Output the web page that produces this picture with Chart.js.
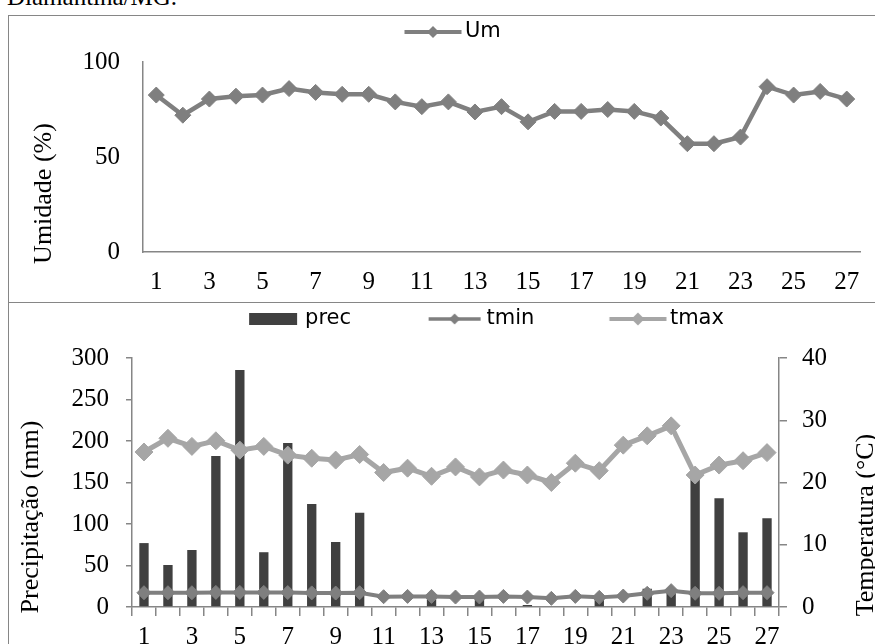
<!DOCTYPE html>
<html>
<head>
<meta charset="utf-8">
<script src="https://cdn.jsdelivr.net/npm/chart.js@4.4.1/dist/chart.umd.min.js"></script>
<style>
  html, body { margin: 0; padding: 0; background: #fff; overflow: hidden; width: 875px; height: 644px; }
  #legenda { position: absolute; left: 7px; top: -16px; font: 25px "Liberation Serif", "Times New Roman", serif; line-height: 25px; white-space: nowrap; color: #000; }
  .painel { position: absolute; left: 8px; width: 900px; border: 1px solid #868686; box-sizing: border-box; }
  #painelUm { top: 15px; height: 288px; }
  #painelPrec { top: 302px; height: 400px; }
  canvas { position: absolute; left: 0; }
  #chartUm { top: 16px; }
  #chartPrec { top: 303px; }
</style>
</head>
<body>
<div id="legenda">Diamantina/MG.</div>
<div class="painel" id="painelUm"></div>
<div class="painel" id="painelPrec"></div>
<canvas id="chartUm" width="875" height="286"></canvas>
<canvas id="chartPrec" width="875" height="360"></canvas>
<script>
// --- DADOS ---
const dias = ['1', '2', '3', '4', '5', '6', '7', '8', '9', '10', '11', '12', '13', '14',
              '15', '16', '17', '18', '19', '20', '21', '22', '23', '24', '25', '26', '27'];
const umidade = [82.6, 72, 80.5, 82, 82.6, 86, 84, 83, 83, 79, 76.5, 79, 73.7, 76.5,
                 68.5, 74, 74, 75, 74, 70.5, 57, 57, 60.5, 87, 82.6, 84.5, 80.5];
const precipitacao = [77, 50.6, 68.7, 182, 285.5, 66, 197.6, 124, 78.3, 113.5, 0, 0, 12, 0,
                      12, 0, 2.4, 0, 0, 10, 0, 22, 22, 156.6, 131, 90, 107];
const tempMin = [17.2, 17.2, 17.2, 17.6, 17.6, 17.6, 17.4, 17, 16.8, 17.2, 12.4, 12.8, 12.8, 12,
                 12, 12.8, 12, 10.4, 12.8, 11.6, 13.2, 16.5, 19.7, 16.5, 16.5, 17.3, 17.3];
const tempMax = [24.9, 27.1, 25.8, 26.7, 25.2, 25.8, 24.4, 23.9, 23.6, 24.5, 21.6, 22.3, 21.0, 22.5,
                 20.9, 22.0, 21.2, 20.0, 23.1, 21.9, 26.0, 27.5, 29.1, 21.2, 22.8, 23.5, 24.8];

// --- ESTILO ---
const corUm = '#7f7f7f';
const corPrec = '#404040';
const corTmin = '#7f7f7f';
const corTmax = '#a6a6a6';
const corEixo = '#868686';
const fonteEixo = { family: '"Liberation Serif", "Times New Roman", serif', size: 25 };
const fonteLegenda = { family: '"DejaVu Sans", sans-serif', size: 21 };

Chart.defaults.animation = false;
Chart.defaults.events = [];

// simbolo da legenda: linha com losango (ou barra), desenhado num canvas
function simbolo(largura, centro, desenha) {
    const c = document.createElement('canvas');
    c.width = largura;
    c.height = 24;
    desenha(c.getContext('2d'), centro, 12);
    return c;
}
function linhaLosango(cor, espessura, comprimento, raio) {
    return (ctx, cx, cy) => {
        ctx.strokeStyle = cor;
        ctx.lineWidth = espessura;
        ctx.beginPath();
        ctx.moveTo(cx - comprimento / 2, cy);
        ctx.lineTo(cx + comprimento / 2, cy);
        ctx.stroke();
        ctx.fillStyle = cor;
        ctx.beginPath();
        ctx.moveTo(cx - raio, cy);
        ctx.lineTo(cx, cy - raio);
        ctx.lineTo(cx + raio, cy);
        ctx.lineTo(cx, cy + raio);
        ctx.closePath();
        ctx.fill();
    };
}
function barra(cor, w, h) {
    return (ctx, cx, cy) => {
        ctx.fillStyle = cor;
        ctx.fillRect(cx - w / 2, cy - h / 2, w, h);
    };
}

// titulos dos eixos (rotacionados, lidos de baixo para cima)
function titulosEixos(textos) {
    return {
        id: 'titulosEixos',
        afterDraw(chart) {
            const ctx = chart.ctx;
            ctx.save();
            ctx.font = '26px "Liberation Serif", "Times New Roman", serif';
            ctx.fillStyle = '#000';
            ctx.textAlign = 'center';
            ctx.textBaseline = 'alphabetic';
            textos.forEach(t => {
                ctx.save();
                ctx.translate(t.x, t.y);
                ctx.rotate(-Math.PI / 2);
                ctx.fillText(t.texto, 0, 0);
                ctx.restore();
            });
            ctx.restore();
        }
    };
}

const rotuloImpar = (v, i) => (i % 2 === 0 ? dias[i] : '');

// --- GRAFICO UMIDADE ---
new Chart(document.getElementById('chartUm'), {
    type: 'line',
    data: {
        labels: dias,
        datasets: [{
            label: 'Um',
            data: umidade,
            borderColor: corUm,
            backgroundColor: corUm,
            borderWidth: 4.5,
            pointStyle: 'rectRot',
            pointRadius: 8,
            pointBorderWidth: 1,
            tension: 0
        }]
    },
    options: {
        responsive: false,
        devicePixelRatio: 1,
        layout: { padding: { left: 52.3, right: 15, top: -4.5, bottom: 0 } },
        plugins: {
            tooltip: { enabled: false },
            title: { display: true, text: '', weight: 500, font: { size: 1, lineHeight: 1 }, padding: { top: 8.5, bottom: 0 } },
            legend: {
                position: 'top',
                labels: {
                    usePointStyle: true,
                    pointStyleWidth: 43,
                    padding: 10,
                    color: '#000',
                    font: fonteLegenda,
                    generateLabels: () => [{
                        text: 'Um',
                        pointStyle: simbolo(60, 30, linhaLosango(corUm, 4, 57, 6)),
                        fillStyle: corUm, strokeStyle: corUm, lineWidth: 0, hidden: false, datasetIndex: 0
                    }]
                }
            }
        },
        scales: {
            x: {
                type: 'category',
                offset: true,
                grid: { display: false, drawTicks: false },
                border: { display: true, color: corEixo, width: 1.5 },
                ticks: { autoSkip: false, maxRotation: 0, padding: 15, color: '#000', font: fonteEixo, callback: rotuloImpar },
                afterFit: s => { s.height = 50; }
            },
            y: {
                min: 0,
                max: 100,
                grid: { display: false, drawTicks: false },
                border: { display: true, color: corEixo, width: 1.5 },
                ticks: { stepSize: 50, padding: 23, color: '#000', font: fonteEixo },
                afterFit: s => { s.width = 90.7; }
            }
        }
    },
    plugins: [titulosEixos([{ texto: 'Umidade (%)', x: 51, y: 177.5 }])]
});

// --- GRAFICO PRECIPITACAO / TEMPERATURA ---
new Chart(document.getElementById('chartPrec'), {
    type: 'bar',
    data: {
        labels: dias,
        datasets: [
            {
                type: 'bar',
                label: 'prec',
                data: precipitacao,
                backgroundColor: corPrec,
                barPercentage: 0.39,
                categoryPercentage: 1,
                yAxisID: 'y',
                order: 3
            },
            {
                type: 'line',
                label: 'tmin',
                data: tempMin,
                borderColor: corTmin,
                backgroundColor: corTmin,
                borderWidth: 4,
                pointStyle: 'rectRot',
                pointRadius: 7,
                pointBorderWidth: 1,
                tension: 0,
                yAxisID: 'y',
                order: 2
            },
            {
                type: 'line',
                label: 'tmax',
                data: tempMax,
                borderColor: corTmax,
                backgroundColor: corTmax,
                borderWidth: 5,
                pointStyle: 'rectRot',
                pointRadius: 9,
                pointBorderWidth: 1,
                tension: 0,
                yAxisID: 'y2',
                order: 1
            }
        ]
    },
    options: {
        responsive: false,
        devicePixelRatio: 1,
        layout: { padding: { left: 28.5, right: 0, top: -4.5, bottom: 0 } },
        plugins: {
            tooltip: { enabled: false },
            title: { display: true, text: '', weight: 500, font: { size: 1, lineHeight: 1 }, padding: { top: 17.5, bottom: 0 } },
            legend: {
                position: 'top',
                labels: {
                    usePointStyle: true,
                    pointStyleWidth: 115,
                    padding: 10,
                    color: '#000',
                    font: fonteLegenda,
                    generateLabels: () => [
                        { text: 'prec', pointStyle: simbolo(140, 106, barra(corPrec, 48, 12)),
                          fillStyle: corPrec, strokeStyle: corPrec, lineWidth: 0, hidden: false, datasetIndex: 0 },
                        { text: 'tmin', pointStyle: simbolo(140, 106, linhaLosango(corTmin, 3.5, 52, 5.5)),
                          fillStyle: corTmin, strokeStyle: corTmin, lineWidth: 0, hidden: false, datasetIndex: 1 },
                        { text: 'tmax', pointStyle: simbolo(140, 106, linhaLosango(corTmax, 4, 57, 6.5)),
                          fillStyle: corTmax, strokeStyle: corTmax, lineWidth: 0, hidden: false, datasetIndex: 2 }
                    ]
                }
            }
        },
        scales: {
            x: {
                type: 'category',
                offset: true,
                grid: { offset: true, drawOnChartArea: false, drawTicks: true, tickLength: 9, color: corEixo, lineWidth: 1.5 },
                border: { display: true, color: corEixo, width: 1.5 },
                ticks: { autoSkip: false, maxRotation: 0, padding: 6, color: '#000', font: fonteEixo, callback: rotuloImpar },
                afterFit: s => { s.height = 56; }
            },
            y: {
                position: 'left',
                min: 0,
                max: 300,
                grid: { drawOnChartArea: false, tickLength: 6, color: corEixo, lineWidth: 1.5 },
                border: { display: true, color: corEixo, width: 1.5 },
                ticks: { stepSize: 50, padding: 17, color: '#000', font: fonteEixo },
                afterFit: s => { s.width = 103.5; }
            },
            y2: {
                position: 'right',
                min: 0,
                max: 40,
                grid: { drawOnChartArea: false, tickLength: 8, color: corEixo, lineWidth: 1.5 },
                border: { display: true, color: corEixo, width: 1.5 },
                ticks: { stepSize: 10, padding: 15, color: '#000', font: fonteEixo },
                afterFit: s => { s.width = 96; }
            }
        }
    },
    plugins: [titulosEixos([
        { texto: 'Precipitação (mm)', x: 38, y: 214 },
        { texto: 'Temperatura (°C)', x: 873, y: 222 }
    ])]
});
</script>
</body>
</html>
